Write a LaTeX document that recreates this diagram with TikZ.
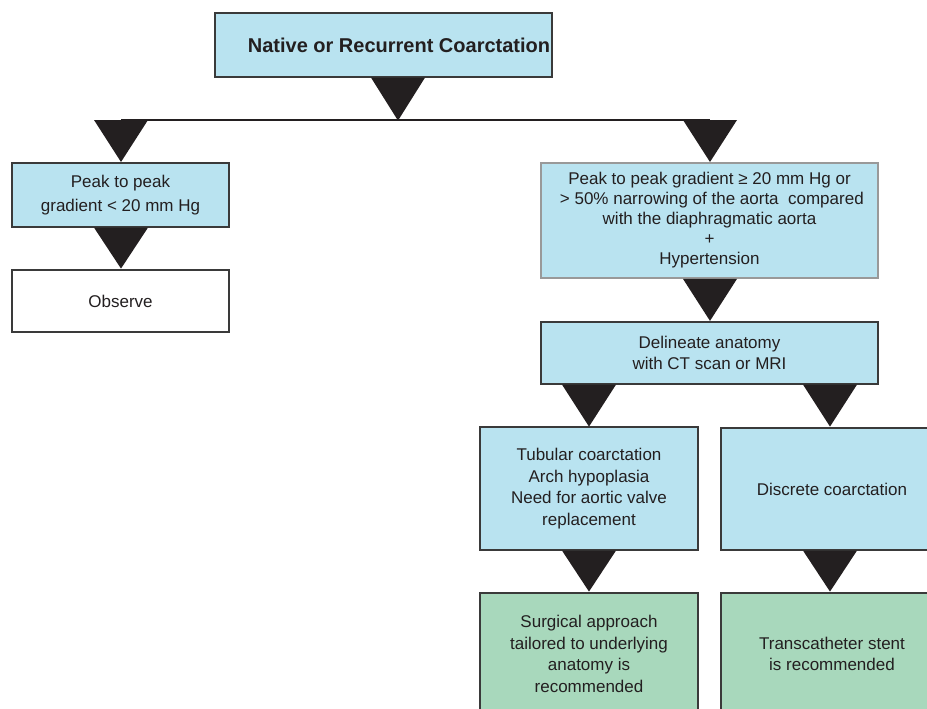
\documentclass[tikz,border=0pt]{standalone}
\usepackage{fontspec}
\setmainfont{Liberation Sans}
\usetikzlibrary{calc}
\definecolor{boxblue}{HTML}{B9E3F0}
\definecolor{boxgreen}{HTML}{A8D8BC}
\definecolor{edge}{HTML}{3A3A3A}
\definecolor{headfill}{HTML}{231F20}
% downward wedge hanging from a point: #1 top centre, #2 height
\newcommand\wedgedown[2]{%
  \fill[headfill] ($(#1)+(-27,0)$) -- ($(#1)+(27,0)$) -- ($(#1)+(0,#2)$) -- cycle;}
\begin{document}
\begin{tikzpicture}[x=1pt,y=-1pt,
  box/.style={draw=edge,line width=1.2pt,fill=boxblue,align=center,inner sep=0pt,
    text=headfill,font=\fontsize{17}{20.5}\selectfont},
  plainbox/.style={box,fill=white},
  greenbox/.style={box,fill=boxgreen},
  bar/.style={line width=2pt,draw=headfill}]
\useasboundingbox (0,0) rectangle (927,709);
\clip (0,0) rectangle (927,709);

% boxes
\node[box,minimum width=337,minimum height=64,font=\fontsize{20}{22}\selectfont\bfseries]
  (top) at (383.5,45) {\hspace*{31pt}Native or Recurrent Coarctation};
\node[box,minimum width=217,minimum height=64,font=\fontsize{17}{24}\selectfont] (low) at (120.5,195)
  {Peak to peak\\gradient < 20 mm Hg};
\node[plainbox,minimum width=217,minimum height=62] (obs) at (120.5,301) {Observe};
\node[box,draw=gray!80,line width=1.8pt,minimum width=337,minimum height=115,
  font=\fontsize{17}{20}\selectfont] (high) at (709.5,220.5)
  {Peak to peak gradient ≥ 20 mm Hg or\\
   \ > 50\% narrowing of the aorta \ compared\\
   with the diaphragmatic aorta\\ +\\ Hypertension};
\node[box,minimum width=337,minimum height=62] (img) at (709.5,353)
  {Delineate anatomy\\with CT scan or MRI};
\node[box,minimum width=218,minimum height=123,font=\fontsize{17}{21.5}\selectfont] (tub) at (589,488.5)
  {Tubular coarctation\\Arch hypoplasia\\Need for aortic valve\\replacement};
\node[box,minimum width=222,minimum height=122] (disc) at (832,489) {Discrete coarctation};
\node[greenbox,minimum width=218,minimum height=122,font=\fontsize{17}{21.5}\selectfont] (surg) at (589,654)
  {Surgical approach\\tailored to underlying\\anatomy is\\recommended};
\node[greenbox,minimum width=222,minimum height=122,font=\fontsize{17}{21.5}\selectfont] (stent) at (832,654)
  {Transcatheter stent\\is recommended};

% branching bar under the first box
\coordinate (barL) at (121,120);
\coordinate (barR) at (710,120);
\draw[bar] (barL) -- (barR);

% wedges
\wedgedown{$(top.south)+(14.5,0)$}{43}
\wedgedown{barL}{42}
\wedgedown{barR}{42}
\wedgedown{$(low.south)+(0.5,0)$}{41}
\wedgedown{$(high.south)+(0.5,0)$}{42}
\wedgedown{$(img.south)+(-120.5,0)$}{42}
\wedgedown{$(img.south)+(120.5,0)$}{42}
\wedgedown{tub.south}{41}
\wedgedown{$(disc.south)+(-2,0)$}{41}
\end{tikzpicture}
\end{document}
